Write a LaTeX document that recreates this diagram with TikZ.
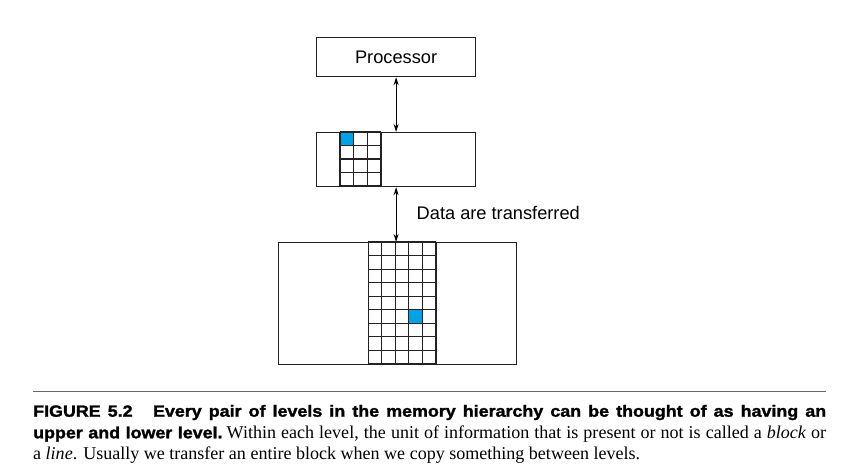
\documentclass[tikz,border=0pt]{standalone}
\usepackage{fontspec}
\setmainfont{Liberation Serif}
\newfontfamily\diafont{Liberation Sans}
\newfontfamily\capfont{Liberation Sans}[FakeStretch=1.1, BoldFeatures={FakeBold=1.6}]
\usetikzlibrary{arrows.meta}
\definecolor{cellblue}{HTML}{00A3E8}
\definecolor{linegray}{HTML}{222222}
\tikzset{
  x=1bp, y=-1bp,
  levelbox/.style={draw=linegray, line width=1.2bp, inner sep=0pt, anchor=north west},
  gridline/.style={draw=linegray, line width=1.1bp},
  filled/.style={fill=cellblue},
  biarrow/.style={draw=black, line width=0.9bp, {Stealth[length=8bp,width=5bp]}-{Stealth[length=8bp,width=5bp]}},
  lbl/.style={font=\diafont\fontsize{18.3}{21}\selectfont, inner sep=0pt},
  capline/.style={anchor=base west, inner sep=0pt},
}
\newcommand{\bfcap}{\capfont\bfseries\fontsize{16.3}{21.3}\selectfont}
\newcommand{\rmcap}{\rmfamily\mdseries\fontsize{18.1}{21.3}\selectfont}
\begin{document}
\begin{tikzpicture}
\useasboundingbox (0,0) rectangle (851,473);
% boxes
\node[levelbox, minimum width=159bp, minimum height=39bp] (proc) at (316,37) {};
\node[lbl] (proctext) at (proc.center) {Processor};
\node[levelbox, minimum width=159bp, minimum height=54bp] (mid) at (316,132) {};
\node[levelbox, minimum width=238bp, minimum height=122bp] (low) at (278,242) {};
% upper grid
\fill[filled] (340,132) rectangle (353.67,145.5);
\foreach \i in {0,...,3} {\draw[gridline] ({340+13.667*\i},132) -- ({340+13.667*\i},186);}
\foreach \j in {0,...,4} {\draw[gridline] (340,{132+13.5*\j}) -- (381,{132+13.5*\j});}
% lower grid
\fill[filled] (409,310) rectangle (422.6,323.6);
\foreach \i in {0,...,5} {\draw[gridline] ({368.3+13.54*\i},242) -- ({368.3+13.54*\i},364);}
\foreach \j in {0,...,9} {\draw[gridline] (368.3,{242+13.556*\j}) -- (436,{242+13.556*\j});}
% redraw box outlines
\node[levelbox, minimum width=159bp, minimum height=54bp] at (316,132) {};
\node[levelbox, minimum width=238bp, minimum height=122bp] at (278,242) {};
% arrows
\draw[biarrow] (proc.south) -- (mid.north);
\draw[biarrow] (mid.south) -- (mid.south |- low.north);
\node[lbl, anchor=west] (datalbl) at (416.5,213) {Data are transferred};
% caption rule
\coordinate (ruleL) at (33,391.5);
\coordinate (ruleR) at (826,391.5);
\draw[draw=black!60, line width=1.6bp] (ruleL) -- (ruleR);
% caption lines
\node[capline] (cap1) at (33,416.7) {\hbox to 793bp{\bfcap FIGURE 5.2\hspace{1em plus 0.3em minus 0.2em}Every pair of levels in the memory hierarchy can be thought of as having an}};
\node[capline] (cap2) at (33,438.3) {\hbox to 793bp{{\bfcap upper and lower level.} \rmcap Within each level, the unit of information that is present or not is called a \textit{block} or}};
\node[capline] (cap3) at (33,459.3) {\rmcap a \textit{line}. Usually we transfer an entire block when we copy something between levels.};
\end{tikzpicture}
\end{document}
